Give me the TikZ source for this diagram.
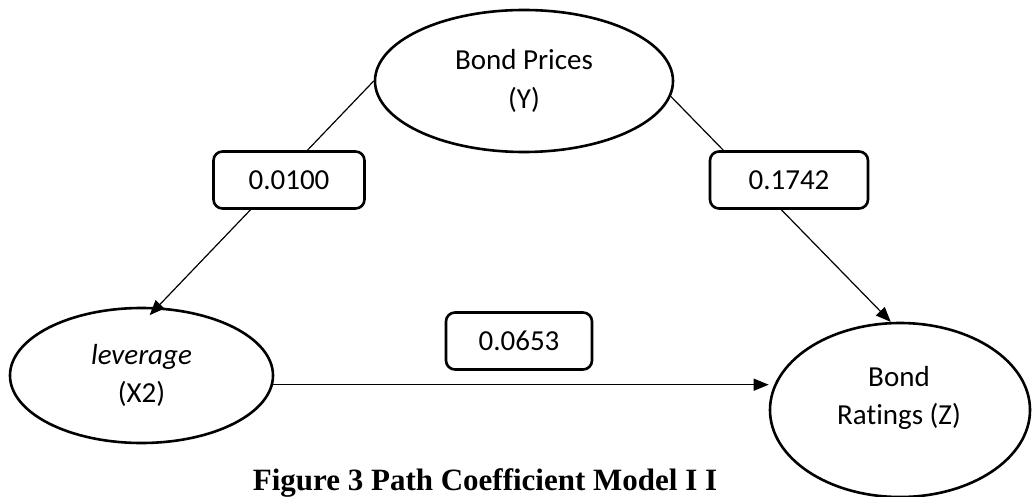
\documentclass[tikz,border=0pt]{standalone}
\usepackage{fontspec}
\setmainfont{Carlito}[Ligatures={NoCommon}]
\newfontfamily\capfont{Liberation Serif}
\usetikzlibrary{shapes.geometric,arrows.meta}
\tikzset{
  latent/.style={draw, ellipse, line width=2.6pt, inner sep=0pt, align=center,
    font=\fontsize{29}{38.5}\selectfont},
  coefbox/.style={draw, fill=white, rounded corners=9pt, line width=2.6pt,
    minimum height=57pt, inner sep=0pt, font=\fontsize{29}{34}\selectfont},
  path/.style={line width=1.2pt, -{Triangle[length=15pt,width=12pt]}},
}
\begin{document}
\begin{tikzpicture}[x=1pt,y=-1pt]
\useasboundingbox (0,0) rectangle (1032,497);
\node[latent, minimum width=298pt, minimum height=142pt] (Y) at (524,81) {Bond Prices\\(Y)};
\node[latent, minimum width=263pt, minimum height=135pt] (X) at (141.5,375.5) {\textit{leverage}\\(X2)};
\node[latent, minimum width=260pt, minimum height=174pt] (Z) at (900,410) {};
\node[font=\fontsize{29}{38.5}\selectfont, align=center] (Zt) at (899,398) {Bond\\Ratings (Z)};
\draw[path, shorten >=-11pt] (Y.west) -- (X.77);
\draw[path] (Y.-6.2) -- (Z.96.6);
\draw[path] (X.-4.6) -- (X.-4.6 -| Z.west);
\node[coefbox, minimum width=151pt] (b1) at (289,180) {0.0100};
\node[coefbox, minimum width=158pt] (b2) at (789,180) {0.1742};
\node[coefbox, minimum width=146pt] (b3) at (519,341) {0.0653};
\node[anchor=base, font=\capfont\bfseries\fontsize{31}{36}\selectfont, inner sep=0pt] (cap) at (485,490) {Figure 3 Path Coefficient Model I I};
\end{tikzpicture}
\end{document}
